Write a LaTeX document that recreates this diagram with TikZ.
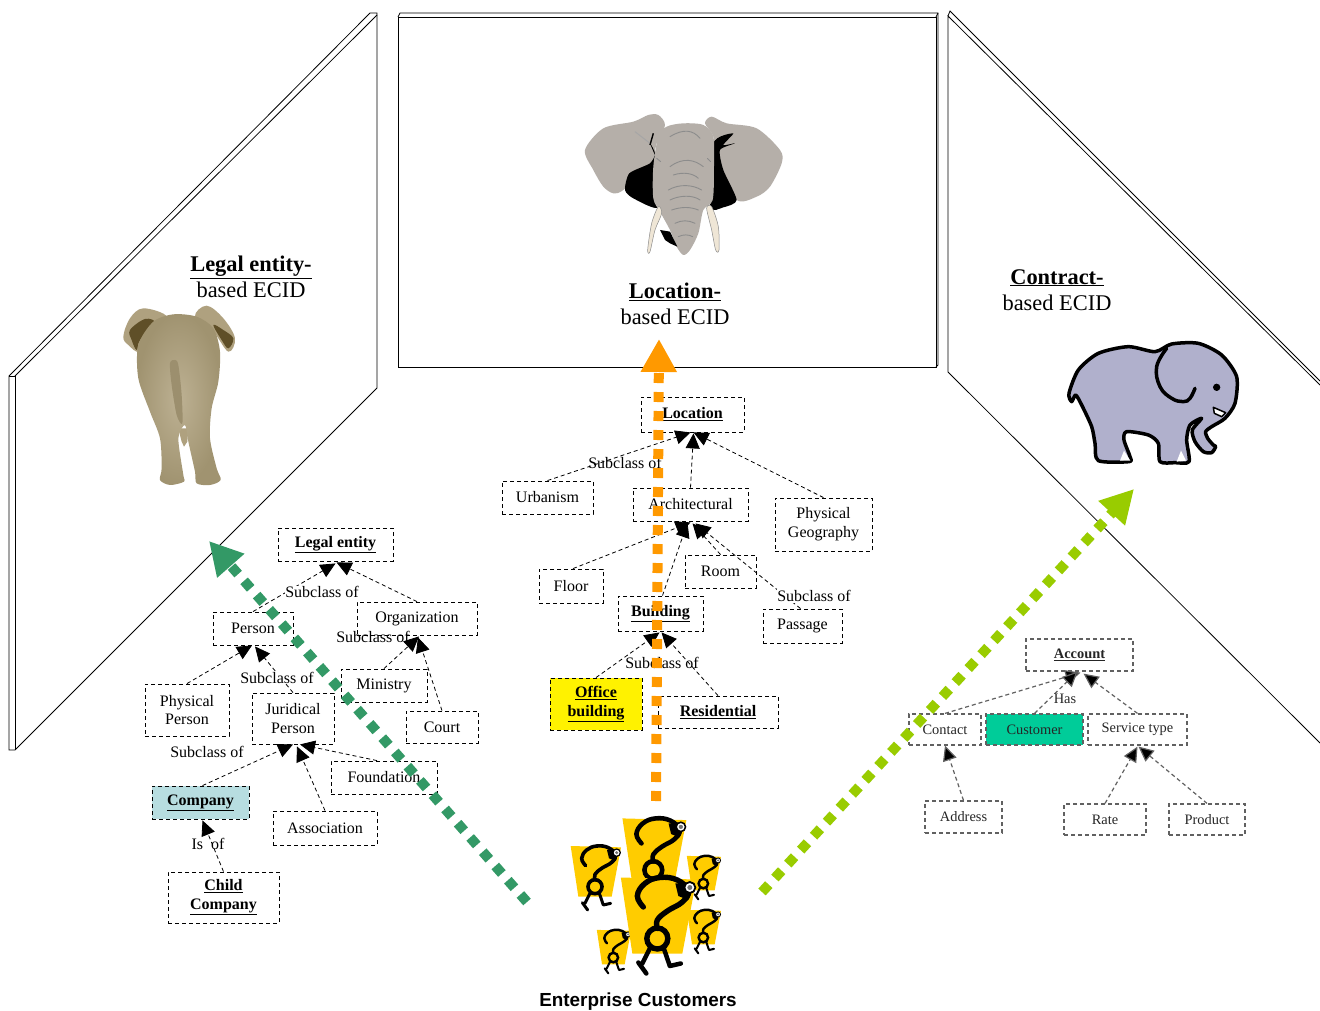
\documentclass[tikz,border=0pt]{standalone}
\usepackage{fontspec}
\setmainfont{Liberation Serif}
\newfontfamily\arialfont{Liberation Sans}
\usetikzlibrary{arrows.meta}
\definecolor{qmy}{HTML}{FFCC00}
\definecolor{qmb}{HTML}{AFA17F}
\definecolor{qmd}{HTML}{5F4F28}
\definecolor{qmt}{HTML}{9C8F6E}
\definecolor{qml}{HTML}{BDB193}
\definecolor{qmo}{HTML}{A09370}
\definecolor{eg}{HTML}{B5AFA9}
\definecolor{et}{HTML}{EFE6D6}
\definecolor{ec}{HTML}{B0B0CC}
\definecolor{lblue}{HTML}{B7DDE0}
\definecolor{cgreen}{HTML}{00CC99}
\definecolor{orangec}{HTML}{FF9900}
\definecolor{greenc}{HTML}{339966}
\definecolor{limec}{HTML}{99CC00}
\tikzset{
  panel/.style={draw=black,line width=0.8pt,line join=miter},
  boxn/.style={draw=black,dash pattern=on 4pt off 3pt,line width=0.85pt,inner sep=0pt,align=center,
    font=\fontsize{16}{18.8}\selectfont},
  gboxn/.style={draw=black!62,dash pattern=on 4pt off 3pt,line width=1.2pt,inner sep=0pt,align=center,
    text=black!85,font=\fontsize{14.4}{17}\selectfont},
  conn/.style={draw=black,dash pattern=on 4pt off 3pt,line width=0.8pt,-{Triangle[length=15pt,width=14pt,fill=black]}},
  gconn/.style={draw=black!62,dash pattern=on 4pt off 3pt,line width=1.2pt,-{Triangle[length=15pt,width=14pt,fill=black]}},
  lab/.style={inner sep=0pt,font=\fontsize{16}{18}\selectfont},
  glab/.style={inner sep=0pt,text=black!85,font=\fontsize{14.4}{17}\selectfont},
  head/.style={inner sep=0pt,align=center,font=\fontsize{22.4}{26.5}\selectfont},
  bigarrow/.style={dash pattern=on 10pt off 9pt,line width=10pt,line cap=butt},
}
\newcommand{\hd}[1]{\textbf{\underline{#1}}}
\newcommand{\qmfig}[3]{%
\begin{scope}[shift={(540+#1/3,800+#2/3)},x={#3*0.3333pt},y={-#3*0.3333pt}]
  \fill[qmy] (-73,-77) -- (78,-73) -- (50,75) -- (-50,75) -- cycle;
  \draw[black,line width={#3*3.6pt},line cap=round,line join=round]
    plot[smooth,tension=.7] coordinates {(-28,-18) (-40,-40) (-25,-65) (5,-77) (40,-72) (62,-50) (50,-28) (20,-10) (0,8) (0,25)};
  \draw[black,line width={#3*3.6pt}] (0,45) circle (21);
  \draw[black,line width={#3*3pt},line cap=round,line join=round]
    (-15,65) -- (-30,95) (-38,93) -- (-22,115) (13,65) -- (25,100) -- (47,95);
  \fill[black] (36,-65) -- (70,-68) -- (62,-32) -- (42,-40) -- cycle;
  \draw[black,fill=white,line width={#3*1.2pt}] (65,-57) circle (11);
  \fill[black!55] (65,-57) circle (5);
\end{scope}}
\begin{document}
\begin{tikzpicture}[x=1pt,y=-1pt]
\useasboundingbox (0,0) rectangle (1320,1011);
\fill[white] (0,0) rectangle (1320,1011);
% panels
\draw[panel] (15,750) -- (377,388) -- (377,13) -- (370,13) -- (9,376) -- (9,750) -- cycle;
\draw[panel] (9,376) -- (15,376) -- (15,750);
\draw[panel] (15,376) -- (377,15);
\draw[panel] (398,367) rectangle (936,17);
\draw[panel] (398,17) -- (400,13) -- (938,13) -- (938,365) -- (936,367);
\draw[panel] (936,17) -- (938,13);
\draw[panel] (1320,743) -- (948,372) -- (948,16) -- (1320,385);
\draw[panel] (948,16) -- (950,11) -- (1320,381);
% rear elephant
\begin{scope}[shift={(110,295)},x=0.3333pt,y=-0.3333pt]
  \fill[qmb] plot[smooth cycle,tension=.6] coordinates {(40,125) (60,70) (100,40) (170,65) (120,110) (90,170) (55,150)};
  \fill[qmb] plot[smooth cycle,tension=.6] coordinates {(255,65) (290,32) (340,70) (375,130) (355,170) (310,110)};
  \fill[qmd] plot[smooth cycle,tension=.6] coordinates {(60,105) (105,72) (135,85) (90,135) (80,165) (65,135)};
  \fill[qmd] plot[smooth cycle,tension=.6] coordinates {(310,90) (340,105) (370,130) (355,160) (335,135)};
  \fill[qmb] (205,400) -- (235,400) -- (232,440) -- (222,455) -- (215,440) -- cycle;
  \shade[inner color=qml,outer color=qmo] plot[smooth cycle,tension=.5] coordinates {(85,150) (130,80) (190,58) (260,65) (310,100) (330,170) (325,260) (305,340) (300,430) (320,520) (332,555) (300,570) (260,565) (255,530) (235,440) (225,390) (205,430) (220,540) (222,560) (180,570) (150,555) (155,520) (150,430) (120,350) (85,250)};
  \fill[qmt] plot[smooth cycle,tension=.5] coordinates {(180,205) (195,195) (205,210) (215,300) (217,385) (200,360) (185,270)};
\end{scope}
% front elephant head
\begin{scope}[shift={(570,100)},x=0.3333pt,y=-0.3333pt]
  \fill[eg] plot[smooth cycle,tension=.5] coordinates {(45,150) (100,85) (190,65) (235,45) (265,45) (285,75) (260,130) (240,200) (160,270) (130,280) (100,260) (70,210)};
  \fill[eg] plot[smooth cycle,tension=.5] coordinates {(405,70) (425,50) (470,70) (560,85) (630,150) (635,190) (600,260) (560,290) (500,300) (440,200) (430,110)};
  \fill[black] plot[smooth cycle,tension=.4] coordinates {(240,130) (255,160) (240,190) (178,220) (165,270) (190,295) (265,322) (265,200)};
  \fill[black] plot[smooth cycle,tension=.4] coordinates {(430,130) (490,100) (460,135) (495,130) (450,150) (460,210) (500,300) (460,322) (420,320)};
  \draw[black!35,line width=1pt] (195,95) -- (240,130);
  \draw[black,line width=1.4pt] (250,100) -- (240,135);
  \fill[eg] plot[smooth cycle,tension=.5] coordinates {(290,80) (340,70) (400,75) (430,110) (432,200) (428,300) (400,330) (385,400) (360,450) (340,465) (320,440) (300,390) (270,335) (250,295) (250,200) (265,110)};
  \fill[black] (270,390) -- (300,395) -- (322,440) -- (300,430) -- (285,420) -- cycle;
  \filldraw[fill=et,draw=black!45,line width=.5pt] plot[smooth cycle,tension=.5] coordinates {(265,320) (245,370) (233,450) (240,455) (255,390) (275,340)};
  \filldraw[fill=et,draw=black!45,line width=.5pt] plot[smooth cycle,tension=.5] coordinates {(410,325) (425,390) (437,450) (447,450) (445,380) (425,320)};
  \draw[black!45,line width=.9pt,line cap=round]
    (300,110) .. controls (340,85) and (370,90) .. (390,115)
    (260,175) -- (272,185) (412,175) -- (422,185)
    (300,200) .. controls (340,170) and (375,180) .. (400,200)
    (310,225) .. controls (340,215) and (370,220) .. (385,235)
    (295,270) .. controls (330,250) and (370,255) .. (395,270)
    (300,300) .. controls (330,285) and (370,285) .. (390,300)
    (305,330) .. controls (335,320) and (360,320) .. (385,330)
    (315,370) .. controls (335,360) and (355,360) .. (375,370)
    (325,410) .. controls (340,403) and (355,403) .. (368,410);
\end{scope}
% cartoon elephant
\begin{scope}[shift={(1055,330)},x=0.3333pt,y=-0.3333pt]
  \draw[black,fill=ec,line width=3.5pt,line join=round] plot[smooth cycle,tension=.45] coordinates {(42,190) (70,120) (130,70) (220,50) (300,65) (350,42) (430,40) (500,75) (545,140) (540,220) (510,265) (470,290) (452,305) (458,325) (475,345) (482,350) (470,368) (445,365) (420,335) (412,300) (440,265) (405,285) (395,330) (402,395) (360,398) (315,395) (310,340) (280,315) (215,305) (207,330) (225,380) (222,395) (130,392) (120,340) (110,290) (80,225) (62,195) (50,215)};
  \draw[black,line width=3.5pt,line cap=round] plot[smooth,tension=.7] coordinates {(335,55) (305,110) (315,170) (350,205) (385,215) (405,205) (420,175)};
  \fill[black] (485,172) circle (11);
  \draw[black,fill=white,line width=1.5pt,line join=round] (475,232) -- (512,248) -- (500,260) -- (478,250) -- cycle;
  \fill[white] (195,392) -- (207,362) -- (226,392) -- cycle;
  \fill[white] (365,395) -- (378,362) -- (393,392) -- cycle;
\end{scope}
% headings
\node[head] (hleft) at (251,277) {\hd{Legal entity-}\\based ECID};
\node[head] (hmid) at (675,304) {\hd{Location-}\\based ECID};
\node[head] (hright) at (1057,290) {\hd{Contract-}\\based ECID};
% left tree
\node[boxn,minimum width=115pt,minimum height=33pt] (legal) at (335.5,544.5) {\hd{Legal entity}};
\node[boxn,minimum width=80pt,minimum height=33pt] (person) at (253,628.5) {Person};
\node[boxn,minimum width=120pt,minimum height=33pt] (org) at (417,618.5) {Organization};
\node[boxn,minimum width=84pt,minimum height=52pt] (phys) at (187,710) {Physical\\Person};
\node[boxn,minimum width=82pt,minimum height=51pt] (jur) at (293,718.5) {Juridical\\Person};
\node[boxn,minimum width=86pt,minimum height=33pt] (min) at (384,685.5) {Ministry};
\node[boxn,minimum width=72pt,minimum height=32pt] (court) at (442,727) {Court};
\node[boxn,minimum width=106pt,minimum height=33pt] (found) at (384,777.5) {Foundation};
\node[boxn,fill=lblue,minimum width=97pt,minimum height=33pt] (comp) at (200.5,802.5) {\hd{Company}};
\node[boxn,minimum width=104pt,minimum height=34pt] (assoc) at (325,828) {Association};
\node[boxn,minimum width=111pt,minimum height=51pt] (child) at (223.5,897.5) {\hd{Child}\\\hd{Company}};
\draw[conn] (person.north) -- ([shift={(0,2)}]legal.south);
\draw[conn] (org.north) -- ([shift={(1,1)}]legal.south);
\draw[conn] (phys.north) -- ([shift={(-1,0)}]person.south);
\draw[conn] (jur.north) -- ([shift={(2,1)}]person.south);
\draw[conn] (min.north) -- ([shift={(2,1)}]org.south);
\draw[conn] (court.north) -- ([shift={(1,2)}]org.south);
\draw[conn] ([shift={(2,0)}]comp.north) -- (jur.south);
\draw[conn] (assoc.north) -- ([shift={(4,2)}]jur.south);
\draw[conn] ([shift={(-7,0)}]found.north) -- ([shift={(7,0)}]jur.south);
\draw[conn] (child.north) -- ([shift={(2,1)}]comp.south);
\node[lab,fill=white] (l1) at (322,592) {Subclass of};
\node[lab] (l2) at (373,637) {Subclass of};
\node[lab,fill=white] (l3) at (277,678) {Subclass of};
\node[lab] (l4) at (207,752) {Subclass of};
\node[lab] (l5) at (208,844) {Is\ \ of};
% middle tree
\node[boxn,minimum width=103pt,minimum height=35pt] (loc) at (692.5,414.5) {\hd{Location}};
\node[boxn,minimum width=91pt,minimum height=33pt] (urb) at (547.5,497.5) {Urbanism};
\node[boxn,minimum width=115pt,minimum height=33pt] (arch) at (690.5,504.5) {Architectural};
\node[boxn,minimum width=97pt,minimum height=53pt] (pgeo) at (823.5,524.5) {Physical\\Geography};
\node[boxn,minimum width=64pt,minimum height=34pt] (floor) at (571,586) {Floor};
\node[boxn,minimum width=71pt,minimum height=33pt] (room) at (720.5,571.5) {Room};
\node[boxn,minimum width=85pt,minimum height=35pt] (bld) at (660.5,613.5) {\hd{Building}};
\node[boxn,minimum width=79pt,minimum height=34pt] (pass) at (802.5,626) {Passage};
\node[boxn,fill=yellow,minimum width=92pt,minimum height=52pt] (office) at (596,704) {\hd{Office}\\\hd{building}};
\node[boxn,minimum width=120pt,minimum height=32pt] (resi) at (718,712) {\hd{Residential}};
\draw[conn] (urb.north) -- ([shift={(-2,0)}]loc.south);
\draw[conn] (arch.north) -- ([shift={(1,1)}]loc.south);
\draw[conn] (pgeo.north) -- ([shift={(1,0)}]loc.south);
\draw[conn] ([shift={(2,0)}]floor.north) -- ([shift={(0,1)}]arch.south);
\draw[conn] ([shift={(2,0)}]bld.north) -- ([shift={(-3,1)}]arch.south);
\draw[conn] (room.north) -- ([shift={(2,2)}]arch.south);
\draw[conn] ([shift={(-2,0)}]pass.north) -- ([shift={(5,2)}]arch.south);
\draw[conn] (office.north) -- ([shift={(-1,1)}]bld.south);
\draw[conn] (resi.north) -- ([shift={(1,1)}]bld.south);
\node[lab] (l6) at (625,463) {Subclass of};
\node[lab,fill=white,inner ysep=1pt] (l7) at (814,596) {Subclass of};
\node[lab] (l8) at (662,663) {Subclass of};
% right tree
\node[gboxn,minimum width=107pt,minimum height=32pt] (acc) at (1079.5,655) {\hd{Account}};
\node[gboxn,minimum width=72pt,minimum height=31pt] (cont) at (945,729.5) {Contact};
\node[gboxn,fill=cgreen,minimum width=97pt,minimum height=31pt] (cust) at (1034.5,729.5) {Customer};
\node[gboxn,minimum width=99pt,minimum height=31pt] (serv) at (1137.5,729.5) {Service type};
\node[gboxn,minimum width=77pt,minimum height=32pt] (addr) at (963.5,817) {Address};
\node[gboxn,minimum width=82pt,minimum height=31pt] (rate) at (1105,819.5) {Rate};
\node[gboxn,minimum width=76pt,minimum height=31pt] (prod) at (1207,819.5) {Product};
\draw[gconn] (cont.north) -- ([shift={(1,1)}]acc.south);
\draw[gconn] (cust.north) -- ([shift={(-2,0)}]acc.south);
\draw[gconn] (serv.north) -- ([shift={(4,2)}]acc.south);
\draw[gconn] (addr.north) -- (cont.south);
\draw[gconn] (rate.north) -- ([shift={(0,1)}]serv.south);
\draw[gconn] (prod.north) -- ([shift={(1,1)}]serv.south);
\node[glab,fill=white] (l9) at (1065,699) {Has};
% customers
\qmfig{220}{442}{0.68}
\qmfig{165}{215}{1}
\qmfig{340}{153}{1.27}
\qmfig{490}{220}{0.68}
\qmfig{490}{382}{0.68}
\qmfig{352}{348}{1.5}
\node[inner sep=0pt,font=\arialfont\bfseries\fontsize{18.9}{22}\selectfont] (ent) at (638,1002) {Enterprise Customers};
% big arrows
\coordinate (oa) at (656,801);
\coordinate (ob) at (659,339);
\coordinate (ga) at (527,902);
\coordinate (gb) at (209,541);
\coordinate (la) at (762,892);
\coordinate (lb) at (1134,489);
\draw[bigarrow,draw=orangec,-{Triangle[length=33pt,width=34pt,fill=orangec]}] (oa) -- (ob);
\draw[bigarrow,draw=greenc,-{Triangle[length=33pt,width=34pt,fill=greenc]}] (ga) -- (gb);
\draw[bigarrow,draw=limec,-{Triangle[length=33pt,width=34pt,fill=limec]}] (la) -- (lb);
\end{tikzpicture}
\end{document}
